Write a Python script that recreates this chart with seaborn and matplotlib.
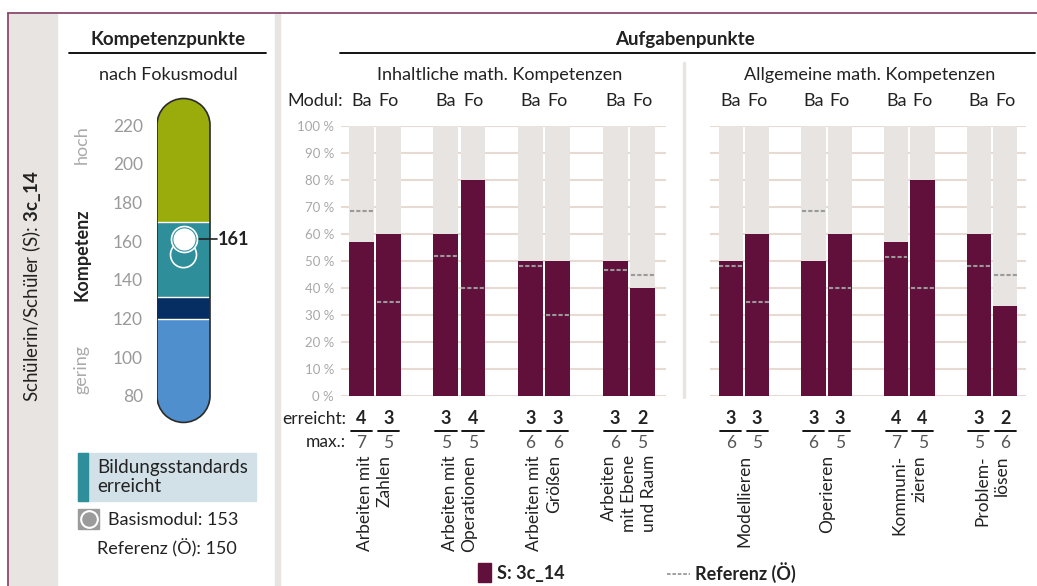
import matplotlib
matplotlib.use('Agg')
import matplotlib.pyplot as plt
import seaborn as sns
import pandas as pd
import numpy as np
from matplotlib.patches import Rectangle, PathPatch
from matplotlib.lines import Line2D
from matplotlib.path import Path

# ---- data ----
schueler = '3c_14'

# Kompetenzpunkte (Thermometer)
skala_ticks = [80, 100, 120, 140, 160, 180, 200, 220]
band_grenzen = [120, 131, 170]
punkte_fokus = 161
punkte_basis = 153
punkte_referenz = 150

# Aufgabenpunkte
module = ['Ba', 'Fo']

inhalt_labels = ['Arbeiten mit\nZahlen', 'Arbeiten mit\nOperationen',
                 'Arbeiten mit\nGrößen', 'Arbeiten\nmit Ebene\nund Raum']
inhalt_erreicht_ba = [4, 3, 3, 3]
inhalt_erreicht_fo = [3, 4, 3, 2]
inhalt_max_ba = [7, 5, 6, 6]
inhalt_max_fo = [5, 5, 6, 5]
inhalt_ref_ba = [68.5, 52, 48, 46.5]
inhalt_ref_fo = [35, 40, 30, 45]

allg_labels = ['Modellieren', 'Operieren', 'Kommuni-\nzieren', 'Problem-\nlösen']
allg_erreicht_ba = [3, 3, 4, 3]
allg_erreicht_fo = [3, 3, 4, 2]
allg_max_ba = [6, 6, 7, 5]
allg_max_fo = [5, 5, 5, 6]
allg_ref_ba = [48, 68.5, 51.5, 48]
allg_ref_fo = [35, 40, 40, 45]

# ---- style ----
MAROON = '#61103b'
HELL = '#e8e4e1'
GRID = '#e6dad2'
REF = '#9a9a9a'
TXT = '#222222'
BAND_FARBEN = ['#4f8fcd', '#062e62', '#2e8f9b', '#9aab0c']

sns.set_style('white')
plt.rcParams['font.family'] = ['Lato', 'DejaVu Sans']
plt.rcParams['mathtext.fontset'] = 'custom'
plt.rcParams['mathtext.rm'] = 'Lato'
plt.rcParams['mathtext.bf'] = 'Lato:bold'
plt.rcParams['font.size'] = 13

W, H = 1037, 586
fig = plt.figure(figsize=(W / 100, H / 100), dpi=100)


def fx(x):
    return x / W


def fy(y):
    return 1 - y / H


def rect(x0, y0, x1, y1):
    return [fx(x0), fy(y1), (x1 - x0) / W, (y1 - y0) / H]


def ftext(x, y, s, **kw):
    kw.setdefault('color', TXT)
    kw.setdefault('va', 'center')
    fig.text(fx(x), fy(y), s, **kw)


def fline(x0, x1, y0, y1, **kw):
    fig.add_artist(Line2D([fx(x0), fx(x1)], [fy(y0), fy(y1)], **kw))


# frame, left strip, separator
fig.add_artist(Rectangle((fx(8), 0), fx(57) - fx(8), fy(13), color=HELL, zorder=0))
fig.add_artist(Rectangle((fx(275), 0), fx(280) - fx(275), fy(13), color=HELL, zorder=0))
fline(8, W, 13, 13, color='#8b4b6f', lw=1.3)
fline(8, 8, 13, H, color='#8b4b6f', lw=1.3)
ftext(32, 286, 'Schülerin/Schüler (S): $\\mathbf{3c\\_14}$', rotation=90, ha='center',
      fontsize=13.5)

# ---- left panel: Kompetenzpunkte ----
ftext(168, 40, 'Kompetenzpunkte', ha='center', weight='bold', fontsize=13.5)
fline(69, 266, 53, 53, color='black', lw=1.3)
ftext(168, 75, 'nach Fokusmodul', ha='center')
ftext(82, 145, 'hoch', rotation=90, ha='center', color='#aaaaaa')
ftext(82, 255, 'Kompetenz', rotation=90, ha='center', weight='bold')
ftext(82, 370, 'gering', rotation=90, ha='center', color='#aaaaaa')

PX = 340 / 175.7  # pixel per point on the scale, so x and y share one unit
ax_t = fig.add_axes(rect(157, 90, 270, 430))
ax_t.set_ylim(62.4, 238.1)
ax_t.set_xlim(0, 113 / PX)
r = 26.5 / PX
unten, oben = skala_ticks[0] - r, skala_ticks[-1] + r

# capsule outline: half circle on top, half circle at the bottom
arc_top = Path.arc(0, 180)
arc_bot = Path.arc(180, 360)
verts = np.concatenate([arc_top.vertices * r + [r, skala_ticks[-1]],
                        arc_bot.vertices * r + [r, skala_ticks[0]],
                        [[2 * r, skala_ticks[-1]]]])
codes = np.concatenate([arc_top.codes, [Path.LINETO], arc_bot.codes[1:],
                        [Path.CLOSEPOLY]])
kapsel = Path(verts, codes)

body = PathPatch(kapsel, fc='none', ec='none')
ax_t.add_patch(body)
stufen_unten = [unten] + band_grenzen
stufen_oben = band_grenzen + [oben]
bars = ax_t.bar([r] * 4, [o - u for u, o in zip(stufen_unten, stufen_oben)],
                bottom=stufen_unten, width=2 * r, color=BAND_FARBEN, lw=0, zorder=2)
for b in bars:
    b.set_clip_path(body)
trenn = ax_t.hlines(band_grenzen, 0, 2 * r, colors='white', lw=1, zorder=3)
trenn.set_clip_path(body)
ax_t.add_patch(PathPatch(kapsel, fc='none', ec='#2b2b2b', lw=1.2, zorder=5))

ax_t.scatter([r], [punkte_basis], s=350, facecolors='none', edgecolors='white',
             linewidths=1.2, zorder=6)
ax_t.scatter([r], [punkte_fokus], s=350, color=BAND_FARBEN[2], edgecolors='white',
             linewidths=1.2, zorder=7)
ax_t.scatter([r], [punkte_fokus], s=255, color='white', lw=0, zorder=8)
ax_t.plot([r + 13 / PX, 60 / PX], [punkte_fokus] * 2, color=TXT, lw=1.2, zorder=6)
ax_t.text(61 / PX, punkte_fokus, str(punkte_fokus), va='center', ha='left',
          weight='bold', fontsize=13, color=TXT)

ax_t.set_yticks(skala_ticks)
ax_t.set_xticks([])
ax_t.tick_params(axis='y', length=7, width=1, color='#888888',
                 labelcolor='#9a9a9a', labelsize=12.5, pad=3)
sns.despine(ax=ax_t, left=True, bottom=True)
ax_t.patch.set_alpha(0)

# left legend
fig.add_artist(Rectangle((fx(78), fy(501)), fx(256) - fx(78), fy(453) - fy(501),
                         color='#d2e1e7'))
fig.add_artist(Rectangle((fx(78), fy(501)), fx(88) - fx(78), fy(453) - fy(501),
                         color=BAND_FARBEN[2]))
ftext(97, 477, 'Bildungsstandards\nerreicht', ha='left', linespacing=1.2, fontsize=13.5)
fig.add_artist(Rectangle((fx(78), fy(529)), fx(99) - fx(78), fy(509) - fy(529),
                         color='#9b9b9b'))
fig.add_artist(Line2D([fx(88.5)], [fy(519)], marker='o', ms=12, mfc='#9b9b9b',
                      mec='white', mew=1.5))
ftext(108, 520, f'Basismodul: {punkte_basis}', ha='left')
ftext(97, 548, f'Referenz (Ö): {punkte_referenz}', ha='left')

# ---- right panel: Aufgabenpunkte ----
ftext(685, 40, 'Aufgabenpunkte', ha='center', weight='bold', fontsize=13.5)
fline(340, 1035, 53, 53, color='black', lw=1.3)
ftext(500, 75, 'Inhaltliche math. Kompetenzen', ha='center')
ftext(870, 75, 'Allgemeine math. Kompetenzen', ha='center')
fline(684, 684, 63, 397, color=HELL, lw=2.5)
ftext(343, 101, 'Modul:', ha='right')
ftext(346, 419, 'erreicht:', ha='right', fontsize=12.5)
ftext(346, 442, 'max.:', ha='right', fontsize=12.5)


def ypos(y):
    # pixel row -> axes fraction (axes from y=126 to y=396)
    return (396 - y) / 270


def aufgaben_panel(box, labels, erreicht_ba, erreicht_fo, max_ba, max_fo,
                   ref_ba, ref_fo, xlim, show_y):
    ax = fig.add_axes(rect(*box))
    df = pd.DataFrame({
        'kompetenz': labels * 2,
        'modul': ['Ba'] * len(labels) + ['Fo'] * len(labels),
        'erreicht': erreicht_ba + erreicht_fo,
        'max': max_ba + max_fo,
        'referenz': ref_ba + ref_fo,
    })
    df['prozent'] = 100 * df['erreicht'] / df['max']
    df['voll'] = 100
    common = dict(data=df, x='kompetenz', hue='modul', hue_order=module,
                  width=0.64, gap=0.08, legend=False, errorbar=None,
                  saturation=1, linewidth=0, ax=ax)
    sns.barplot(y='voll', palette=[HELL, HELL], **common)
    sns.barplot(y='prozent', palette=[MAROON, MAROON], **common)

    tr = ax.get_xaxis_transform()
    for cont, mod in zip(ax.containers[2:], module):
        sub = df[df['modul'] == mod].reset_index(drop=True)
        for bar, (_, row) in zip(cont, sub.iterrows()):
            x0, w = bar.get_x(), bar.get_width()
            cx = x0 + w / 2
            ax.hlines(row['referenz'], x0 + 0.01, x0 + w - 0.01, colors=REF,
                      linestyles=(0, (2, 1)), lw=1.5, zorder=4)
            ax.text(cx, ypos(101), mod, transform=tr, ha='center', va='center', color=TXT)
            ax.text(cx, ypos(419), str(row['erreicht']), transform=tr, ha='center',
                    va='center', weight='bold', color=TXT)
            ax.plot([x0 + 0.02, x0 + w - 0.02], [ypos(431)] * 2, transform=tr,
                    clip_on=False, color='black', lw=1.3)
            ax.text(cx, ypos(443), str(row['max']), transform=tr, ha='center',
                    va='center', color='#555555', fontsize=12.5)

    ax.set_ylim(0, 100)
    ax.set_xlim(*xlim)
    ax.set_yticks(range(0, 101, 10))
    ax.set_yticklabels([f'{v} %' for v in range(0, 101, 10)] if show_y else [])
    ax.yaxis.grid(True, color=GRID, lw=1.5)
    ax.set_axisbelow(True)
    ax.tick_params(axis='y', length=0, pad=5, labelcolor='#a8a8a8', labelsize=9.5)
    ax.set_xticks(range(len(labels)))
    ax.set_xticklabels(labels, rotation=90, multialignment='right', linespacing=1.3,
                       color=TXT, fontsize=12.5)
    ax.tick_params(axis='x', length=0, pad=42.5)
    ax.set_xlabel('')
    ax.set_ylabel('')
    sns.despine(ax=ax, left=True, bottom=True)
    ax.patch.set_alpha(0)
    return ax


aufgaben_panel((341, 126, 666, 396), inhalt_labels, inhalt_erreicht_ba, inhalt_erreicht_fo,
               inhalt_max_ba, inhalt_max_fo, inhalt_ref_ba, inhalt_ref_fo,
               (-0.40, 3.44), True)
aufgaben_panel((710, 126, 1026, 396), allg_labels, allg_erreicht_ba, allg_erreicht_fo,
               allg_max_ba, allg_max_fo, allg_ref_ba, allg_ref_fo,
               (-0.41, 3.41), False)

# bottom legend
fig.add_artist(Rectangle((fx(478), fy(582)), fx(491) - fx(478), fy(563) - fy(582),
                         color=MAROON))
ftext(497, 573, f'S: {schueler}', ha='left', weight='bold')
fline(667, 690, 574, 574, color=REF, lw=1.3, ls=(0, (2, 1)))
ftext(695, 573, 'Referenz (Ö)', ha='left', weight='bold')

fig.savefig('out.png', dpi=100)
